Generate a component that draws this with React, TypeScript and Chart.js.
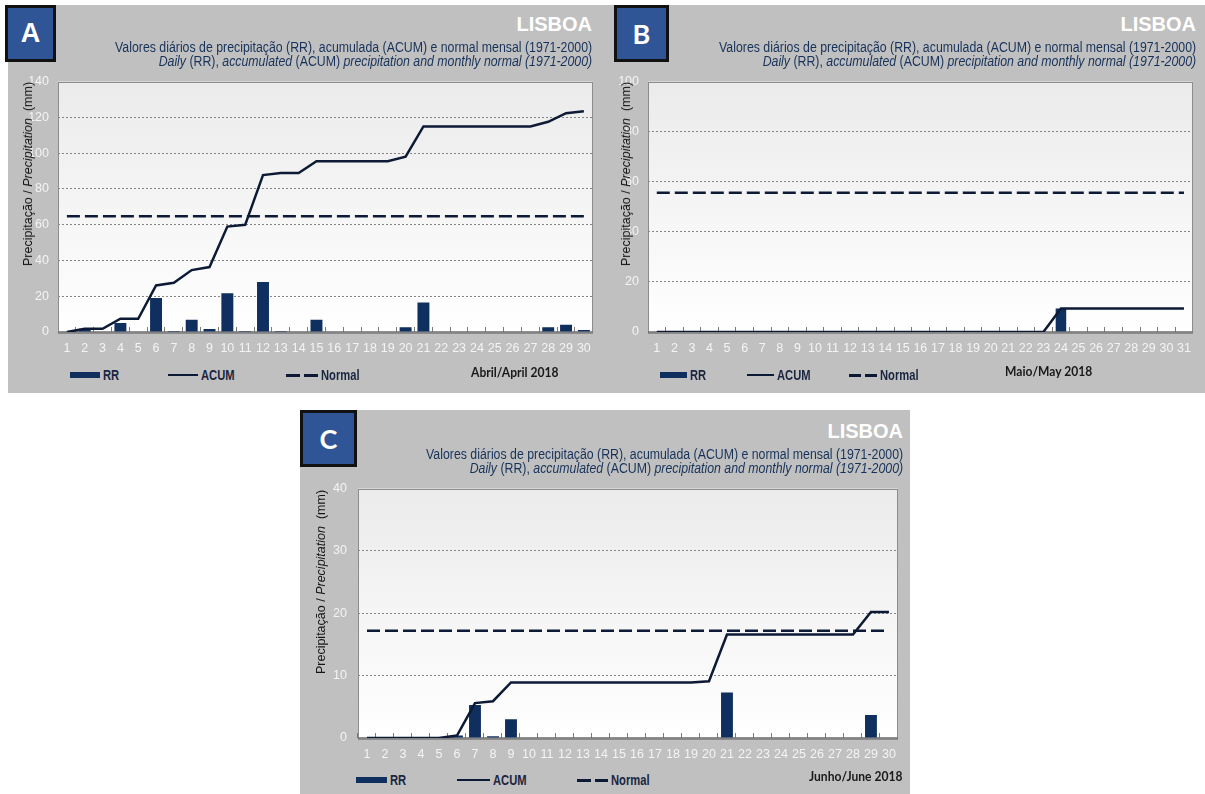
import React, { useEffect, useRef } from "react";
import { Chart, registerables } from "chart.js";

Chart.register(...registerables);

// ---------------- DATA ----------------
const APRIL_DAYS = ["1","2","3","4","5","6","7","8","9","10","11","12","13","14","15","16","17","18","19","20","21","22","23","24","25","26","27","28","29","30"];
const MAY_DAYS = ["1","2","3","4","5","6","7","8","9","10","11","12","13","14","15","16","17","18","19","20","21","22","23","24","25","26","27","28","29","30","31"];
const JUNE_DAYS = ["1","2","3","4","5","6","7","8","9","10","11","12","13","14","15","16","17","18","19","20","21","22","23","24","25","26","27","28","29","30"];

const APRIL_RR = [0, 1.8, 0, 5.0, 0, 19.0, 0.6, 6.9, 1.7, 21.6, 0.6, 27.9, 0.5, 0, 6.9, 0, 0, 0, 0, 2.6, 16.5, 0, 0, 0, 0, 0, 0, 2.6, 4.1, 1.1];
const APRIL_ACUM = [0, 1.8, 1.8, 7.4, 7.4, 26.0, 27.5, 34.6, 36.3, 58.9, 59.9, 87.7, 88.9, 88.9, 95.4, 95.4, 95.4, 95.4, 95.4, 98.0, 114.9, 114.9, 114.9, 114.9, 114.9, 114.9, 114.9, 117.5, 122.3, 123.4];
const APRIL_NORMAL = 64.7;

const MAY_RR = [0, 0, 0, 0, 0, 0, 0, 0, 0, 0, 0, 0, 0, 0, 0, 0, 0, 0, 0, 0, 0, 0, 0, 9.4, 0, 0, 0, 0, 0, 0, 0];
const MAY_ACUM = [0, 0, 0, 0, 0, 0, 0, 0, 0, 0, 0, 0, 0, 0, 0, 0, 0, 0, 0, 0, 0, 0, 0, 9.4, 9.4, 9.4, 9.4, 9.4, 9.4, 9.4, 9.4];
const MAY_NORMAL = 55.6;

const JUNE_RR = [0, 0, 0, 0, 0, 0.4, 5.3, 0.3, 3.0, 0, 0, 0, 0, 0, 0, 0, 0, 0, 0, 0.1, 7.3, 0, 0, 0, 0, 0, 0, 0, 3.7, 0];
const JUNE_ACUM = [0, 0, 0, 0, 0, 0.4, 5.6, 5.9, 8.9, 8.9, 8.9, 8.9, 8.9, 8.9, 8.9, 8.9, 8.9, 8.9, 8.9, 9.1, 16.6, 16.6, 16.6, 16.6, 16.6, 16.6, 16.6, 16.6, 20.2, 20.2];
const JUNE_NORMAL = 17.2;

const TITLE = "LISBOA";
const SUB_PT = "Valores diários de precipitação (RR), acumulada (ACUM) e normal mensal (1971-2000)";
const Y_TITLE_PT = "Precipitação / ";
const Y_TITLE_EN = "Precipitation";
const Y_TITLE_UNIT = "  (mm)";

// ---------------- STYLE ----------------
if (typeof document !== "undefined") {
  document.body.style.margin = "0";
}

const GRAY = "#c0c0c0";
const BAR = "#0f2f5f";
const LINE = "#0d1a35";
const TICK = "#f4f4f4";
const NAVY_TEXT = "#17325a";
const ARIAL = '"Liberation Sans", Arial, sans-serif';

const plotFrame = {
  id: "plotFrame",
  beforeDraw(chart: any) {
    const { ctx, chartArea: a } = chart;
    const g = ctx.createLinearGradient(0, a.top, 0, a.bottom);
    g.addColorStop(0, "#ebebeb");
    g.addColorStop(1, "#ffffff");
    ctx.save();
    ctx.fillStyle = g;
    ctx.fillRect(a.left, a.top, a.right - a.left, a.bottom - a.top);
    ctx.restore();
  },
  beforeDatasetsDraw(chart: any) {
    const { ctx, chartArea: a } = chart;
    ctx.save();
    ctx.strokeStyle = "#8c8c8c";
    ctx.lineWidth = 1;
    ctx.strokeRect(Math.round(a.left) + 0.5, Math.round(a.top) + 0.5, Math.round(a.right - a.left) - 1, Math.round(a.bottom - a.top));
    ctx.strokeStyle = "#6e6e6e";
    ctx.lineWidth = 1.5;
    ctx.beginPath();
    ctx.moveTo(a.left, a.bottom);
    ctx.lineTo(a.right, a.bottom);
    ctx.stroke();
    ctx.restore();
  },
};

type Rect = { x: number; y: number; w: number; h: number };
type Plot = { l: number; t: number; r: number; b: number };

interface PanelSpec {
  labels: string[];
  rr: number[];
  acum: number[];
  normal: number;
  max: number;
  step: number;
  canvas: Rect;
  plot: Plot;
  barPct: number;
  yPad: number;
}

const Y_W = 40;
const X_H = 30;

function ChartPanel({ spec }: { spec: PanelSpec }) {
  const ref = useRef<HTMLCanvasElement | null>(null);
  useEffect(() => {
    if (!ref.current) return;
    const { canvas: c, plot: p } = spec;
    const padding = {
      left: p.l - c.x - Y_W,
      top: p.t - c.y,
      right: c.x + c.w - p.r,
      bottom: c.y + c.h - p.b - X_H,
    };
    const tickFont = { family: ARIAL, size: 12.5 };
    const chart = new Chart(ref.current, {
      type: "bar",
      data: {
        labels: spec.labels,
        datasets: [
          {
            type: "line",
            label: "ACUM",
            data: spec.acum,
            borderColor: LINE,
            borderWidth: 2.5,
            pointRadius: 0,
            tension: 0,
            order: 1,
          } as any,
          {
            type: "line",
            label: "Normal",
            data: spec.labels.map(() => spec.normal),
            borderColor: LINE,
            borderWidth: 2.5,
            borderDash: [13, 5],
            pointRadius: 0,
            tension: 0,
            order: 1,
          } as any,
          {
            type: "bar",
            label: "RR",
            data: spec.rr,
            backgroundColor: BAR,
            categoryPercentage: 1,
            barPercentage: spec.barPct,
            order: 2,
          } as any,
        ],
      },
      options: {
        animation: false,
        responsive: false,
        maintainAspectRatio: false,
        devicePixelRatio: 1,
        layout: { padding },
        plugins: {
          legend: { display: false },
          tooltip: { enabled: false },
          title: { display: false },
        },
        scales: {
          x: {
            offset: true,
            grid: {
              display: true,
              offset: true,
              drawOnChartArea: false,
              drawTicks: true,
              tickLength: -5,
              color: "#7a7a7a",
            },
            border: { display: false },
            ticks: {
              color: TICK,
              font: tickFont,
              padding: 14,
              autoSkip: false,
              maxRotation: 0,
              minRotation: 0,
            },
            afterFit: (s: any) => {
              s.height = X_H;
            },
          },
          y: {
            min: 0,
            max: spec.max,
            ticks: {
              stepSize: spec.step,
              color: TICK,
              font: tickFont,
              padding: spec.yPad,
            },
            grid: {
              drawTicks: false,
              lineWidth: 1,
              color: (ctx: any) =>
                ctx.tick && (ctx.tick.value === 0 || ctx.tick.value === spec.max) ? "rgba(0,0,0,0)" : "#858585",
            },
            border: { display: false, dash: [2, 2] },
            afterFit: (s: any) => {
              s.width = Y_W;
            },
          },
        },
      } as any,
      plugins: [plotFrame],
    });
    return () => chart.destroy();
  }, [spec]);
  const c = spec.canvas;
  return (
    <canvas
      ref={ref}
      width={c.w}
      height={c.h}
      style={{ position: "absolute", left: c.x, top: c.y, width: c.w, height: c.h }}
    />
  );
}

const PAGE_W = 1205;

function Headings({ right, top }: { right: number; top: number }) {
  return (
    <>
      <div
        style={{
          position: "absolute",
          right: PAGE_W - right,
          top: top,
          font: `bold 20px ${ARIAL}`,
          color: "#ffffff",
          lineHeight: "22px",
          whiteSpace: "nowrap",
        }}
      >
        {TITLE}
      </div>
      <div
        style={{
          position: "absolute",
          right: PAGE_W - right,
          top: top + 27,
          font: `14px ${ARIAL}`,
          color: NAVY_TEXT,
          lineHeight: "14px",
          textAlign: "right",
          whiteSpace: "nowrap",
          transform: "scaleX(0.88)",
          transformOrigin: "right center",
        }}
      >
        <div>{SUB_PT}</div>
        <div>
          <i>Daily</i> (RR), <i>accumulated</i> (ACUM) <i>precipitation and monthly normal (1971-2000)</i>
        </div>
      </div>
    </>
  );
}

function YTitle({ cx, cy }: { cx: number; cy: number }) {
  return (
    <div
      style={{
        position: "absolute",
        left: cx,
        top: cy,
        transform: "translate(-50%, -50%) rotate(-90deg)",
        font: `12.5px ${ARIAL}`,
        color: "#151515",
        whiteSpace: "pre",
      }}
    >
      {Y_TITLE_PT}
      <i>{Y_TITLE_EN}</i>
      {Y_TITLE_UNIT}
    </div>
  );
}

function Legend({
  cy,
  rr,
  acum,
  normal,
  month,
  monthCy,
}: {
  cy: number;
  rr: [number, number];
  acum: [number, number];
  normal: [number, number];
  month: [number, string, number];
  monthCy: number;
}) {
  const textStyle = (left: number): React.CSSProperties => ({
    position: "absolute",
    left,
    top: cy - 8,
    font: `bold 14px ${ARIAL}`,
    lineHeight: "16px",
    color: "#1a2640",
    whiteSpace: "nowrap",
    transform: "scaleX(0.8)",
    transformOrigin: "left center",
  });
  const dashW = (normal[1] - normal[0] - 4) / 2;
  return (
    <>
      <div style={{ position: "absolute", left: rr[0], top: cy - 3, width: rr[1] - rr[0], height: 6, background: BAR }} />
      <div style={textStyle(rr[1] + 3)}>RR</div>
      <div style={{ position: "absolute", left: acum[0], top: cy - 1, width: acum[1] - acum[0], height: 2, background: LINE }} />
      <div style={textStyle(acum[1] + 3)}>ACUM</div>
      <div style={{ position: "absolute", left: normal[0], top: cy - 1, width: dashW, height: 2.5, background: LINE }} />
      <div style={{ position: "absolute", left: normal[0] + dashW + 4, top: cy - 1, width: dashW, height: 2.5, background: LINE }} />
      <div style={textStyle(normal[1] + 3)}>Normal</div>
      <div
        style={{
          position: "absolute",
          left: month[0],
          top: monthCy - 9,
          font: `bold 13px Lato, "Open Sans", ${ARIAL}`,
          lineHeight: "18px",
          color: "#1a1a1a",
          whiteSpace: "nowrap",
          transform: `scaleX(${month[2]})`,
          transformOrigin: "left center",
        }}
      >
        {month[1]}
      </div>
    </>
  );
}

function LetterBox({ x, y, w, h, letter, font }: { x: number; y: number; w: number; h: number; letter: string; font: string }) {
  return (
    <div
      style={{
        position: "absolute",
        left: x,
        top: y,
        width: w,
        height: h,
        boxSizing: "border-box",
        background: "#2f5597",
        border: "3px solid #111111",
        color: "#ffffff",
        display: "flex",
        alignItems: "center",
        justifyContent: "center",
        font: `bold 27px ${font}`,
      }}
    >
      {letter}
    </div>
  );
}

const SPEC_A: PanelSpec = {
  labels: APRIL_DAYS,
  rr: APRIL_RR,
  acum: APRIL_ACUM,
  normal: APRIL_NORMAL,
  max: 140,
  step: 20,
  canvas: { x: 8, y: 65, w: 597, h: 300 },
  plot: { l: 58, t: 81, r: 594, b: 332 },
  barPct: 0.67,
  yPad: 9,
};

const SPEC_B: PanelSpec = {
  labels: MAY_DAYS,
  rr: MAY_RR,
  acum: MAY_ACUM,
  normal: MAY_NORMAL,
  max: 100,
  step: 20,
  canvas: { x: 605, y: 65, w: 600, h: 300 },
  plot: { l: 648, t: 81, r: 1199, b: 332 },
  barPct: 0.6,
  yPad: 9,
};

const SPEC_C: PanelSpec = {
  labels: JUNE_DAYS,
  rr: JUNE_RR,
  acum: JUNE_ACUM,
  normal: JUNE_NORMAL,
  max: 40,
  step: 10,
  canvas: { x: 300, y: 470, w: 610, h: 300 },
  plot: { l: 358, t: 487, r: 905, b: 738 },
  barPct: 0.66,
  yPad: 11,
};

export default function App() {
  return (
    <div style={{ position: "relative", width: 1205, height: 794, background: "#ffffff", overflow: "hidden" }}>
      <div style={{ position: "absolute", left: 8, top: 5, width: 1197, height: 388, background: GRAY }} />
      <div style={{ position: "absolute", left: 300, top: 410, width: 610, height: 384, background: GRAY }} />

      <ChartPanel spec={SPEC_A} />
      <ChartPanel spec={SPEC_B} />
      <ChartPanel spec={SPEC_C} />

      <Headings right={592} top={13} />
      <Headings right={1196} top={13} />
      <Headings right={903} top={420} />

      <YTitle cx={28} cy={174} />
      <YTitle cx={626} cy={174} />
      <YTitle cx={321} cy={582} />

      <Legend cy={375} rr={[70, 100]} acum={[168, 198]} normal={[286, 318]} month={[471, "Abril/April 2018", 0.93]} monthCy={372} />
      <Legend cy={375} rr={[660, 687]} acum={[747, 774]} normal={[849, 877]} month={[1005, "Maio/May 2018", 0.93]} monthCy={371} />
      <Legend cy={780} rr={[356, 387]} acum={[457, 490]} normal={[577, 608]} month={[809, "Junho/June 2018", 0.93]} monthCy={776} />

      <LetterBox x={5} y={5} w={51} h={57} letter="A" font={ARIAL} />
      <LetterBox x={614} y={5} w={55} h={57} letter="B" font={`Lato, ${ARIAL}`} />
      <LetterBox x={300} y={410} w={57} h={57} letter="C" font={`Lato, ${ARIAL}`} />
    </div>
  );
}
